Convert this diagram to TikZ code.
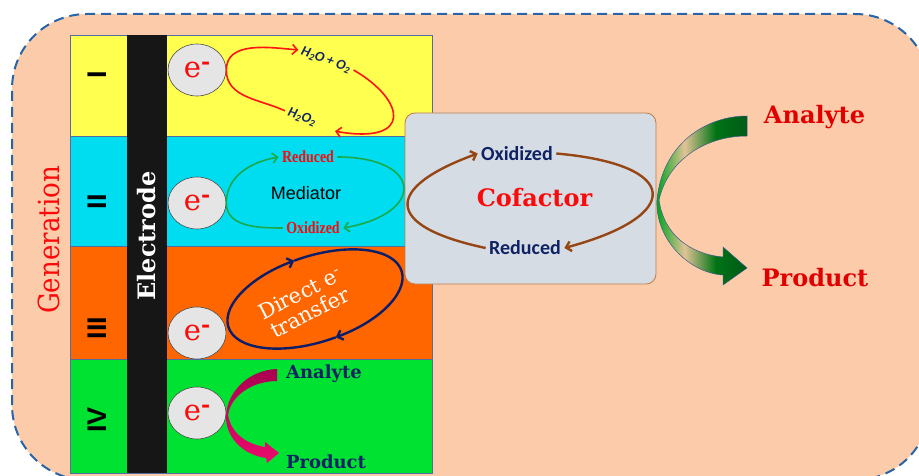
\documentclass[tikz,border=0pt]{standalone}
\usepackage{fontspec}
\setmainfont{DejaVu Serif}
\newfontfamily\condserif{DejaVu Serif Condensed}
\newfontfamily\labelsans{Liberation Sans}
\newfontfamily\narrowserif[FakeStretch=0.82]{Liberation Serif}
\newfontfamily\formulafont{Carlito}
\usetikzlibrary{arrows.meta,shapes.geometric}

\definecolor{peach}{RGB}{252,204,170}
\definecolor{frameblue}{RGB}{40,100,168}
\definecolor{layeredge}{RGB}{80,110,160}
\definecolor{layeryellow}{RGB}{255,255,80}
\definecolor{layercyan}{RGB}{0,220,240}
\definecolor{layerorange}{RGB}{255,102,0}
\definecolor{layergreen}{RGB}{0,226,50}
\definecolor{electrodegray}{RGB}{22,22,22}
\definecolor{boxgray}{RGB}{214,220,228}
\definecolor{boxedge}{RGB}{190,125,75}
\definecolor{loopred}{RGB}{255,20,20}
\definecolor{loopgreen}{RGB}{25,170,75}
\definecolor{loopnavy}{RGB}{12,30,105}
\definecolor{loopbrown}{RGB}{150,70,20}
\definecolor{labelnavy}{RGB}{15,35,100}
\definecolor{labelred}{RGB}{225,0,0}
\definecolor{brightred}{RGB}{250,10,10}
\definecolor{magentadark}{RGB}{170,0,80}
\definecolor{magentalight}{RGB}{235,10,110}
\definecolor{arrowgreen}{RGB}{0,165,30}
\definecolor{arrowtan}{RGB}{225,195,150}
\definecolor{arrowdark}{RGB}{0,90,25}
\definecolor{arrowedge}{RGB}{60,90,140}

\pgfdeclarehorizontalshading{big arrow shade}{100bp}{%
    color(0bp)=(arrowgreen); color(26bp)=(arrowgreen); color(41bp)=(arrowtan);
    color(58bp)=(arrowgreen!70!black); color(75bp)=(arrowdark); color(100bp)=(arrowdark)}

\newcommand{\eminus}{\textcolor{brightred}{\fontsize{29}{29}\selectfont e\raisebox{8pt}{\fontsize{22}{22}\selectfont\bfseries -}}}

\tikzset{%
    outer frame/.style={
        draw=frameblue,
        fill=peach,
        line width=2pt,
        dash pattern=on 10pt off 6pt,
        rounded corners=75pt
    },
    layer box/.style={draw=layeredge, line width=0.7pt},
    every electron/.style={
        ellipse,
        draw=black!70,
        fill=black!10,
        line width=0.6pt,
        minimum width=58pt,
        minimum height=52pt,
        inner sep=0pt
    },
    numeral/.style={rotate=90, font=\labelsans\bfseries\fontsize{27}{27}\selectfont},
    formula/.style={rotate=-20, text=labelnavy, font=\formulafont\bfseries\itshape\fontsize{14}{14}\selectfont},
    mediator label/.style={text=brightred, font=\narrowserif\bfseries\fontsize{17}{17}\selectfont},
    cofactor label/.style={text=labelnavy, font=\formulafont\bfseries\fontsize{20}{20}\selectfont},
    species label/.style={font=\bfseries\fontsize{18}{18}\selectfont},
    big label/.style={text=labelred, font=\bfseries\fontsize{24}{24}\selectfont},
    red loop/.style={draw=loopred, line width=1.6pt},
    green loop/.style={draw=loopgreen, line width=1.6pt},
    navy loop/.style={draw=loopnavy, line width=2.4pt},
    brown loop/.style={draw=loopbrown, line width=2.4pt},
}

\begin{document}
\begin{tikzpicture}[x=1pt, y=1pt, >={Straight Barb[length=5pt, width=10pt]}]

    \useasboundingbox (0,0) rectangle (919,475);
    \clip (0,0) rectangle (919,475);
    \draw [outer frame] (12,-5) rectangle (930,461);

    \foreach \c/\t/\b in {layeryellow/440/339, layercyan/339/229, layerorange/229/116, layergreen/116/2}
        \draw [layer box, fill=\c] (70,\b) rectangle (432,\t);

    \fill [electrodegray] (127,2) rectangle (167,440);
    \node [rotate=90, text=white, font=\bfseries\fontsize{24}{24}\selectfont] (electrode) at (147,239) {Electrode};
    \node [rotate=90, text=brightred, font=\condserif\fontsize{29}{29}\selectfont] (generation) at (49,235) {Generation};

    \foreach \r/\y [count=\i] in {I/400, II/273, III/147, IV/55}
        \node [numeral] (numeral-\i) at (97,\y) {\r};

    \foreach \y [count=\i] in {405,272,142,62}
        \node [every electron] (electron-\i) at (197,\y) {\eminus};

    \node [draw=boxedge, fill=boxgray, line width=0.8pt, rounded corners=10pt,
        minimum width=251pt, minimum height=171pt] (cofactor-box) at (530.5,276.5) {};

    % I
    \node [formula] (h2o) at (326,415) {H\textsubscript{2}O + O\textsubscript{2}};
    \node [formula] (h2o2) at (302,358) {H\textsubscript{2}O\textsubscript{2}};
    \draw [red loop, ->] (electron-1.east) to [out=90, in=175] (h2o.west);
    \draw [red loop, ->] (h2o.east) .. controls +(-30:60) and +(-10:80) .. ([xshift=16pt, yshift=-8pt]h2o2.east);
    \draw [red loop] (h2o2.west) to [out=155, in=-90] (electron-1.east);

    % II
    \node [mediator label] (reduced) at (308,318) {Reduced};
    \node [mediator label] (oxidized) at (313,247) {Oxidized};
    \node [font=\labelsans\fontsize{18}{18}\selectfont] (mediator) at (306,282) {Mediator};
    \draw [green loop, ->] (electron-2.east) to [out=90, in=190] (reduced.west);
    \draw [green loop, ->] (reduced.east) .. controls +(0:85) and +(10:85) .. (oxidized.east);
    \draw [green loop] (oxidized.west) to [out=180, in=-90] (electron-2.east);

    % III
    \node [rotate=27, align=center, text=white, font=\fontsize{21}{22}\selectfont] (direct) at (305,172) {Direct e\textsuperscript{-}\\transfer};
    \coordinate (transfer-loop) at (315,176);
    \begin{scope}[shift={(transfer-loop)}, rotate=18]
        \draw [navy loop, ->] (275:91pt and 43pt) arc [start angle=275, end angle=95, x radius=91pt, y radius=43pt];
        \draw [navy loop, ->] (95:91pt and 43pt) arc [start angle=95, end angle=-85, x radius=91pt, y radius=43pt];
    \end{scope}

    % IV
    \node [species label, text=labelnavy] (analyte) at (324,101) {Analyte};
    \node [species label, text=labelnavy] (product) at (326,13) {Product};
    \path [top color=magentadark, bottom color=magentalight]
        (277,106) .. controls (250,105) and (228,85) .. (226,60)
        .. controls (225,38) and (243,20) .. (266,17)
        -- (267,12) -- (279,22) -- (265,33) -- (265,28)
        .. controls (246,31) and (231,42) .. (228,60)
        .. controls (231,80) and (253,94) .. (277,94) -- cycle;

    % cofactor
    \node [cofactor label] (co-oxidized) at (517,321.5) {Oxidized};
    \node [cofactor label] (co-reduced) at (525,227) {Reduced};
    \node [text=brightred, font=\bfseries\fontsize{24}{24}\selectfont] (cofactor) at (534.5,277) {Cofactor};
    \draw [brown loop, ->] (co-reduced.west) .. controls +(168:105) and +(200:100) .. (co-oxidized.west);
    \draw [brown loop, ->] (co-oxidized.east) .. controls +(-5:125) and +(15:125) .. (co-reduced.east);

    \node [big label] (big-analyte) at (814.5,358) {Analyte};
    \node [big label] (big-product) at (815,197) {Product};
    \path [draw=arrowedge, line width=0.5pt, shading=big arrow shade]
        (747,359) .. controls (705,359) and (662,330) .. (657,275)
        .. controls (655,235) and (690,202) .. (723,200)
        -- (723,190) -- (747,207) -- (723,228) -- (723,218)
        .. controls (690,221) and (664,240) .. (659,275)
        .. controls (668,315) and (705,339) .. (747,339) -- cycle;

\end{tikzpicture}
\end{document}
